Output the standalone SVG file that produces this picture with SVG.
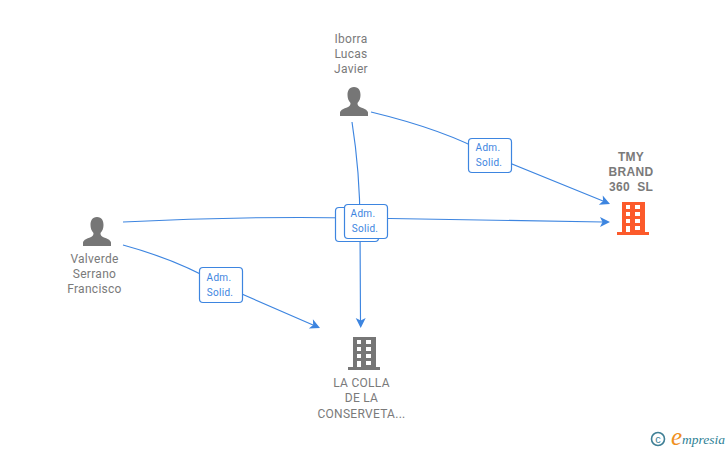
<svg xmlns="http://www.w3.org/2000/svg" width="728" height="450" viewBox="0 0 728 450">
<style>
.c{fill:none;stroke:#3d85e0;stroke-width:1.15}
.h{fill:#3d85e0}
.t{font-family:"Roboto","Liberation Sans",sans-serif;font-size:12px;letter-spacing:.28px;fill:#7a7a7a;text-anchor:middle}
.b{font-weight:700;font-family:"Liberation Sans",sans-serif;font-size:12px;letter-spacing:.3px}
.box{fill:#fff;stroke:#3d85e0;stroke-width:1.2}
.l{font-family:"Roboto","Liberation Sans",sans-serif;font-size:10px;letter-spacing:.3px;fill:#3d85e0;text-anchor:middle}
</style>
<defs>
<g id="p"><path d="M0-17c-5 0-6.500 4-6.500 8 0 3 1 6 3 8 0 2-.5 3-2 3.700-4 1.800-8 2.800-8.500 5.800v3.500h28v-3.500c-.5-3-4.500-4-8.500-5.800-1.500-.7-2-1.700-2-3.700 2-2 3-5 3-8 0-4-1.500-8-6.500-8z" fill="#767676"/></g>
<path id="a" d="M0 0l-10-5 2.500 5-2.500 5z"/>
</defs>
<g id="connectors">
<path class="c" d="M371 112C425 125 465 141 490 155L603 201"/>
<use href="#a" class="h" transform="translate(610 204) rotate(23)"/>
<path class="c" d="M123 222C220 217 300 217 360 218L603 222"/>
<use href="#a" class="h" transform="translate(610 222)"/>
<path class="c" d="M352 122C358 160 360 190 360 225L360.500 321"/>
<use href="#a" class="h" transform="translate(360.700 328) rotate(90)"/>
<path class="c" d="M123 245C160 255 190 267 221 285L313 325"/>
<use href="#a" class="h" transform="translate(320 328) rotate(24)"/>
</g>
<g id="label-iborra-tmy"><rect class="box" x="468.500" y="138.500" width="43" height="34" rx="3.500"/><text class="l" x="488" y="151">Adm.</text><text class="l" x="489" y="166">Solid.</text></g>
<g id="label-valverde-colla"><rect class="box" x="199.500" y="267.500" width="43" height="35" rx="3.500"/><text class="l" x="219" y="281">Adm.</text><text class="l" x="220" y="296">Solid.</text></g>
<g id="label-valverde-tmy"><rect class="box" x="335.500" y="207.500" width="43" height="34" rx="3.500"/></g>
<g id="label-iborra-colla"><rect class="box" x="344.500" y="204.500" width="43" height="34" rx="3.500"/><text class="l" x="363" y="217">Adm.</text><text class="l" x="365" y="232">Solid.</text></g>
<g id="node-iborra"><text class="t" x="351" y="43">Iborra</text><text class="t" x="351" y="58">Lucas</text><text class="t" x="351" y="73">Javier</text><use href="#p" transform="translate(354 104)"/></g>
<g id="node-valverde"><use href="#p" transform="translate(97 234)"/><text class="t" x="94.500" y="263">Valverde</text><text class="t" x="94.500" y="278">Serrano</text><text class="t" x="94.500" y="293">Francisco</text></g>
<g id="node-tmy"><text class="t b" x="631" y="161">TMY</text><text class="t b" x="631" y="176">BRAND</text><text class="t b" x="631" y="191" xml:space="preserve">360  SL</text>
<path fill-rule="evenodd" fill="#fc5a2b" d="M622 202h23v30h4v3h-32v-3h5zM626 205v4h4v-4zM635 205v4h5v-4zM626 212v4h4v-4zM635 212v4h5v-4zM626 219v4h4v-4zM635 219v4h5v-4zM626 226v6h4v-6zM635 226v4h5v-4z"/></g>
<g id="node-colla"><path fill-rule="evenodd" fill="#767676" d="M353 337h23v30h4v3h-32v-3h5zM357 340v4h4v-4zM366 340v4h5v-4zM357 347v4h4v-4zM366 347v4h5v-4zM357 354v4h4v-4zM366 354v4h5v-4zM357 361v6h4v-6zM366 361v4h5v-4z"/><text class="t" x="361.500" y="387">LA COLLA</text><text class="t" x="361.500" y="402">DE LA</text><text class="t" x="361.500" y="418">CONSERVETA...</text></g>
<g id="logo"><circle cx="658" cy="439" r="6.500" fill="none" stroke="#3f7f95" stroke-width="1.600"/><text x="658" y="443" font-family="Liberation Sans,sans-serif" font-size="11" fill="#3f7f95" text-anchor="middle">c</text><text x="671" y="445" font-family="Liberation Serif,serif" font-style="italic" font-size="25" fill="#f0901e">e</text><text x="682" y="444" font-family="Liberation Serif,serif" font-style="italic" font-size="13.500" fill="#2f7f95">mpresia</text></g>
</svg>
